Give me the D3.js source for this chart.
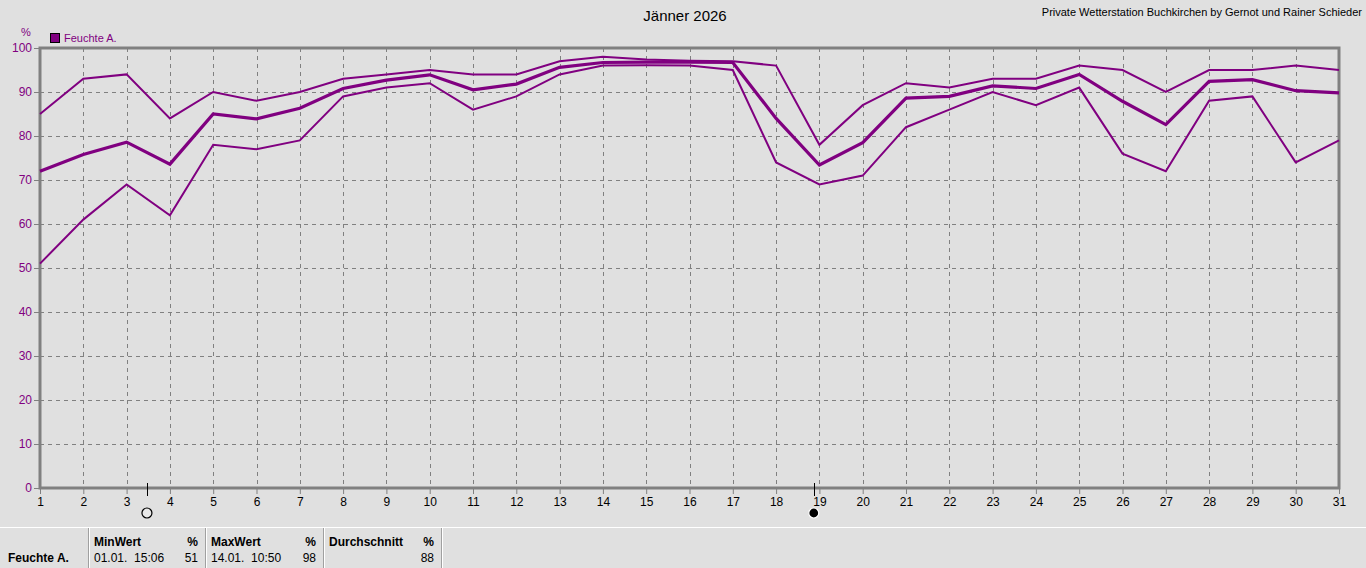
<!DOCTYPE html>
<html>
<head>
<meta charset="utf-8">
<script src="https://cdn.jsdelivr.net/npm/d3@7"></script>
<style>
	body { margin: 0; background: #e0e0e0; overflow: hidden; }
	svg { display: block; font-family: "Liberation Sans", Arial, sans-serif; }
</style>
</head>
<body>
<div id="graph"></div>
<script>
// data
var days = d3.range(1, 32);
var maxValues = [85, 93, 94, 84, 90, 88, 90, 93, 94, 95, 94, 94, 97, 98, 97.4, 97.1, 97, 96, 78, 87, 92, 91, 93, 93, 96, 95, 90, 95, 95, 96, 95];
var avgValues = [72, 75.8, 78.6, 73.6, 85, 83.9, 86.3, 90.8, 92.7, 93.9, 90.5, 91.8, 95.6, 96.7, 96.8, 96.8, 96.7, 84, 73.4, 78.5, 88.6, 89, 91.4, 90.8, 94, 87.9, 82.6, 92.4, 92.8, 90.3, 89.8];
var minValues = [51, 61, 69, 62, 78, 77, 79, 89, 91, 92, 86, 89, 94, 96, 96.1, 96, 95, 74, 69, 71, 82, 86, 90, 87, 91, 76, 72, 88, 89, 74, 79];
var yTicks = [0, 10, 20, 30, 40, 50, 60, 70, 80, 90, 100];
var moonPhases = [{day: 3.47, full: true}, {day: 18.87, full: false}];
var tableCells = [
	{head: "MinWert", unit: "%", when: "01.01.  15:06", value: "51"},
	{head: "MaxWert", unit: "%", when: "14.01.  10:50", value: "98"},
	{head: "Durchschnitt", unit: "%", when: "", value: "88"}
];

var w = 1366, h = 568;
var purple = "#800080";
var axisGray = "#808080";

var svg = d3.select("#graph")
	.append("svg")
	.attr("width", w)
	.attr("height", h);

var xScale = d3.scaleLinear().domain([1, 31]).range([40, 1339]);
var yScale = d3.scaleLinear().domain([0, 100]).range([488, 48]);

// title & credit
svg.append("text")
	.attr("x", 685).attr("y", 21)
	.attr("text-anchor", "middle")
	.attr("font-size", 15)
	.attr("fill", "#000")
	.text("Jänner 2026");

svg.append("text")
	.attr("x", 1362).attr("y", 16)
	.attr("text-anchor", "end")
	.attr("font-size", 11)
	.attr("fill", "#000")
	.text("Private Wetterstation Buchkirchen by Gernot und Rainer Schieder");

// grid
svg.append("g").selectAll("line.h")
	.data(yTicks.filter(function (d) { return d > 0 && d < 100; }))
	.enter().append("line")
	.attr("x1", xScale(1)).attr("x2", xScale(31))
	.attr("y1", function (d) { return yScale(d) + 0.5; })
	.attr("y2", function (d) { return yScale(d) + 0.5; })
	.attr("stroke", axisGray)
	.attr("stroke-dasharray", "4,4");

svg.append("g").selectAll("line.v")
	.data(days.filter(function (d) { return d > 1 && d < 31; }))
	.enter().append("line")
	.attr("x1", function (d) { return Math.round(xScale(d)) + 0.5; })
	.attr("x2", function (d) { return Math.round(xScale(d)) + 0.5; })
	.attr("y1", yScale(100)).attr("y2", yScale(0))
	.attr("stroke", axisGray)
	.attr("stroke-dasharray", "4,4");

// frame
svg.append("rect")
	.attr("x", xScale(1)).attr("y", yScale(100))
	.attr("width", xScale(31) - xScale(1))
	.attr("height", yScale(0) - yScale(100))
	.attr("fill", "none")
	.attr("stroke", axisGray)
	.attr("stroke-width", 3);

// y axis
var yAxis = d3.axisLeft(yScale).tickValues(yTicks).tickSize(5).tickPadding(2);
var yg = svg.append("g").attr("transform", "translate(" + (xScale(1) - 1) + ",0)").call(yAxis);
yg.select(".domain").remove();
yg.selectAll("line").attr("stroke", axisGray);
yg.selectAll("text").attr("fill", purple).attr("font-size", 12).attr("font-family", "Liberation Sans, Arial, sans-serif");

svg.append("text")
	.attr("x", 26).attr("y", 36)
	.attr("text-anchor", "middle")
	.attr("font-size", 11)
	.attr("fill", purple)
	.text("%");

// x axis
var xAxis = d3.axisBottom(xScale).tickValues(days).tickFormat(d3.format("d")).tickSize(5).tickPadding(3);
var xg = svg.append("g").attr("transform", "translate(0," + (yScale(0) + 1) + ")").call(xAxis);
xg.select(".domain").remove();
xg.selectAll("line").attr("stroke", axisGray);
xg.selectAll("text").attr("fill", "#000").attr("font-size", 12).attr("font-family", "Liberation Sans, Arial, sans-serif");

// legend
svg.append("rect")
	.attr("x", 50.5).attr("y", 33.5)
	.attr("width", 9).attr("height", 9)
	.attr("fill", purple)
	.attr("stroke", "#000");
svg.append("text")
	.attr("x", 64).attr("y", 42)
	.attr("font-size", 11)
	.attr("fill", purple)
	.text("Feuchte A.");

// lines
var line = d3.line()
	.x(function (d, i) { return xScale(days[i]); })
	.y(function (d) { return yScale(d); });

svg.append("path").datum(maxValues)
	.attr("d", line).attr("fill", "none")
	.attr("stroke", purple).attr("stroke-width", 2);
svg.append("path").datum(minValues)
	.attr("d", line).attr("fill", "none")
	.attr("stroke", purple).attr("stroke-width", 2);
svg.append("path").datum(avgValues)
	.attr("d", line).attr("fill", "none")
	.attr("stroke", purple).attr("stroke-width", 3.2);

// moon phases
var moons = svg.append("g").selectAll("g")
	.data(moonPhases)
	.enter().append("g");
moons.append("line")
	.attr("x1", function (d) { return Math.round(xScale(d.day)) + 0.5; })
	.attr("x2", function (d) { return Math.round(xScale(d.day)) + 0.5; })
	.attr("y1", 483).attr("y2", 496)
	.attr("stroke", "#000");
moons.append("circle")
	.attr("cx", function (d) { return xScale(d.day); })
	.attr("cy", 513)
	.attr("r", 5)
	.attr("fill", function (d) { return d.full ? "#e8e8e8" : "#000"; })
	.attr("stroke", function (d) { return d.full ? "#000" : "#fff"; })
	.attr("stroke-width", 1.2);

// bottom table
var table = svg.append("g");
table.append("line")
	.attr("x1", 0).attr("x2", w)
	.attr("y1", 527.5).attr("y2", 527.5)
	.attr("stroke", "#fff");

var cellX = [88, 205, 323, 441];
cellX.forEach(function (x) {
	table.append("line")
		.attr("x1", x + 0.5).attr("x2", x + 0.5)
		.attr("y1", 528).attr("y2", h)
		.attr("stroke", "#a0a0a0");
	table.append("line")
		.attr("x1", x + 1.5).attr("x2", x + 1.5)
		.attr("y1", 528).attr("y2", h)
		.attr("stroke", "#fff");
});

table.append("text")
	.attr("x", 8).attr("y", 562)
	.attr("font-size", 12).attr("font-weight", "bold")
	.text("Feuchte A.");

tableCells.forEach(function (c, i) {
	var x0 = cellX[i], x1 = cellX[i + 1];
	table.append("text")
		.attr("x", x0 + 6).attr("y", 546)
		.attr("font-size", 12).attr("font-weight", "bold")
		.text(c.head);
	table.append("text")
		.attr("x", x1 - 7).attr("y", 546)
		.attr("text-anchor", "end")
		.attr("font-size", 12).attr("font-weight", "bold")
		.text(c.unit);
	table.append("text")
		.attr("x", x0 + 6).attr("y", 562)
		.attr("font-size", 12)
		.attr("xml:space", "preserve")
		.style("white-space", "pre")
		.text(c.when);
	table.append("text")
		.attr("x", x1 - 7).attr("y", 562)
		.attr("text-anchor", "end")
		.attr("font-size", 12)
		.text(c.value);
});
</script>
</body>
</html>
